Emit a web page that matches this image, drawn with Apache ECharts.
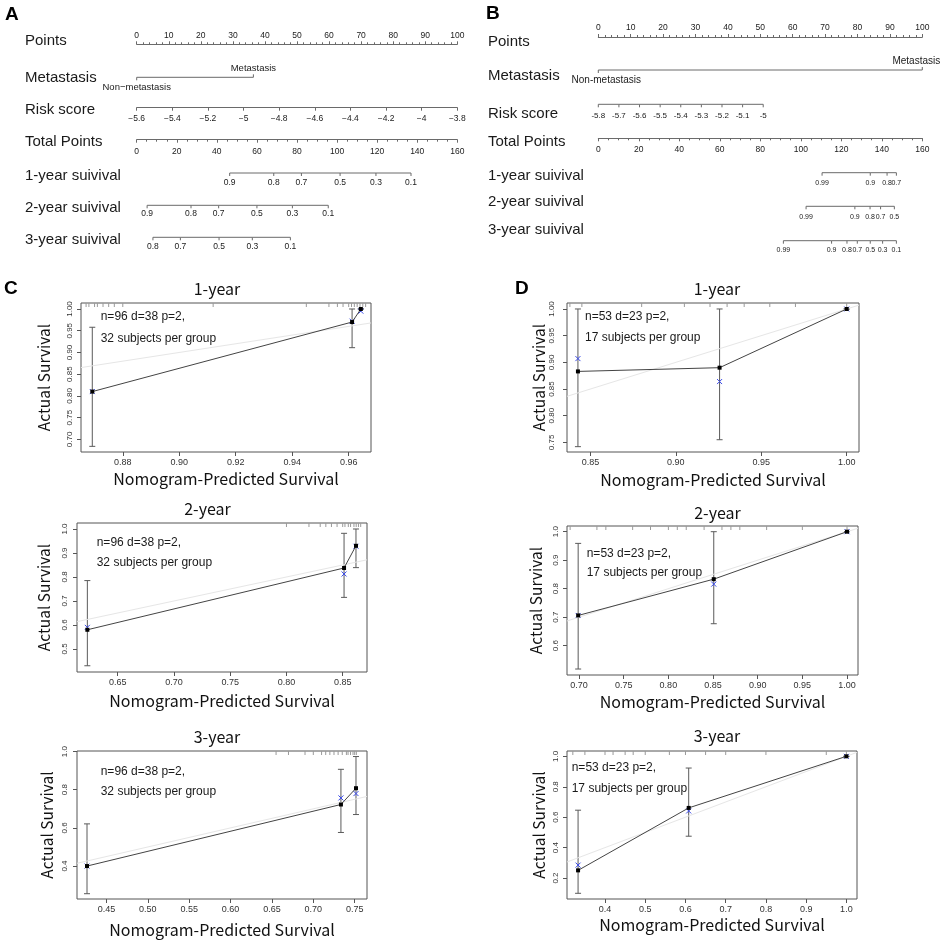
<!DOCTYPE html>
<html>
<head>
<meta charset="utf-8">
<script src="https://cdn.jsdelivr.net/npm/echarts@6/dist/echarts.min.js"></script>
<style>
  html, body { margin: 0; background: #fff; }
  #main { width: 941px; height: 941px; }
</style>
</head>
<body>
<div id="main"></div>
<script>
// ---------- nomogram A ----------
const metaPtsA = [0, 36.4];
const metaLabA = ['Non\u2212metastasis', 'Metastasis'];
const surv1LabA = ['0.9', '0.8', '0.7', '0.5', '0.3', '0.1'];
const surv1TotA = [46.4, 68.4, 82.2, 101.5, 119.4, 136.9];
const surv2LabA = ['0.9', '0.8', '0.7', '0.5', '0.3', '0.1'];
const surv2TotA = [5.2, 27.1, 40.9, 60.0, 77.7, 95.6];
const surv3LabA = ['0.8', '0.7', '0.5', '0.3', '0.1'];
const surv3TotA = [8.1, 21.8, 41.1, 57.7, 76.7];

// ---------- nomogram B ----------
const metaPtsB = [0, 100];
const metaLabB = ['Non-metastasis', 'Metastasis'];
const riskValsB = [-5.8, -5.7, -5.6, -5.5, -5.4, -5.3, -5.2, -5.1, -5];
const riskPtsAtMinus5B = 50.9; // points given to risk score -5
const surv1LabB = ['0.99', '0.9', '0.8', '0.7'];
const surv1TotB = [110.5, 134.3, 142.6, 147.2];
const surv2LabB = ['0.99', '0.9', '0.8', '0.7', '0.5'];
const surv2TotB = [102.6, 126.7, 134.2, 139.4, 146.2];
const surv3LabB = ['0.99', '0.9', '0.8', '0.7', '0.5', '0.3', '0.1'];
const surv3TotB = [91.4, 115.2, 122.8, 127.9, 134.3, 140.4, 147.2];

// ---------- calibration C (n=96) ----------
const c1Pred = [0.8692, 0.9612, 0.9643];
const c1Obs = [0.810, 0.970, 1.000];
const c1Lo = [0.684, 0.911, 1.000];
const c1Hi = [0.958, 1.000, 1.000];
const c1Corr = [0.810, 0.972, 0.995];
const c1Rug = [0.867, 0.868, 0.870, 0.871, 0.873, 0.875, 0.877, 0.880, 0.912, 0.945, 0.953, 0.956, 0.958, 0.960, 0.961, 0.962, 0.963, 0.964, 0.965, 0.966];
const c1XTicks = [0.88, 0.90, 0.92, 0.94, 0.96];
const c1YTicks = [0.70, 0.75, 0.80, 0.85, 0.90, 0.95, 1.00];

const c2Pred = [0.623, 0.8512, 0.8618];
const c2Obs = [0.580, 0.8375, 0.930];
const c2Lo = [0.430, 0.715, 0.839];
const c2Hi = [0.785, 0.982, 1.000];
const c2Corr = [0.590, 0.8125, 0.928];
const c2Rug = [0.80, 0.82, 0.83, 0.835, 0.84, 0.845, 0.85, 0.852, 0.855, 0.857, 0.86, 0.862, 0.864, 0.866];
const c2XTicks = [0.65, 0.70, 0.75, 0.80, 0.85];
const c2YTicks = [0.5, 0.6, 0.7, 0.8, 0.9, 1.0];

const c3Pred = [0.4265, 0.7334, 0.7516];
const c3Obs = [0.400, 0.7226, 0.808];
const c3Lo = [0.255, 0.576, 0.670];
const c3Hi = [0.621, 0.907, 0.974];
const c3Corr = [0.400, 0.757, 0.780];
const c3Rug = [0.655, 0.67, 0.69, 0.70, 0.71, 0.715, 0.72, 0.725, 0.73, 0.735, 0.74, 0.742, 0.745, 0.748, 0.75, 0.752];
const c3XTicks = [0.45, 0.50, 0.55, 0.60, 0.65, 0.70, 0.75];
const c3YTicks = [0.4, 0.6, 0.8, 1.0];

// ---------- calibration D (n=53) ----------
const d1Pred = [0.8427, 0.9256, 1.000];
const d1Obs = [0.883, 0.890, 1.000];
const d1Lo = [0.742, 0.755, 1.000];
const d1Hi = [1.000, 1.000, 1.000];
const d1Corr = [0.907, 0.864, 1.000];
const d1Rug = [0.838, 0.845, 0.88, 0.905, 0.92, 0.93, 0.94, 0.955, 0.97, 1.0];
const d1XTicks = [0.85, 0.90, 0.95, 1.00];
const d1YTicks = [0.75, 0.80, 0.85, 0.90, 0.95, 1.00];

const d2Pred = [0.699, 0.8508, 1.000];
const d2Obs = [0.706, 0.8334, 1.000];
const d2Lo = [0.518, 0.677, 1.000];
const d2Hi = [0.959, 1.000, 1.000];
const d2Corr = [0.706, 0.816, 1.000];
const d2Rug = [0.69, 0.72, 0.73, 0.76, 0.78, 0.80, 0.81, 0.82, 0.84, 0.86, 0.87, 0.88, 0.91, 0.95, 1.0];
const d2XTicks = [0.70, 0.75, 0.80, 0.85, 0.90, 0.95, 1.00];
const d2YTicks = [0.6, 0.7, 0.8, 0.9, 1.0];

const d3Pred = [0.333, 0.608, 1.000];
const d3Obs = [0.2505, 0.661, 1.000];
const d3Lo = [0.0997, 0.475, 1.000];
const d3Hi = [0.646, 0.923, 1.000];
const d3Corr = [0.285, 0.641, 1.000];
const d3Rug = [0.32, 0.35, 0.40, 0.42, 0.45, 0.47, 0.50, 0.56, 0.60, 0.65, 0.70, 0.80, 0.95, 1.0];
const d3XTicks = [0.4, 0.5, 0.6, 0.7, 0.8, 0.9, 1.0];
const d3YTicks = [0.2, 0.4, 0.6, 0.8, 1.0];

const ARIAL = '"Liberation Sans", Arial, sans-serif';
const CJK = '"Noto Sans CJK SC", "Noto Sans", sans-serif';
const LINE = '#6a6a6a';
const TXT = '#1a1a1a';

const grids = [], xAxes = [], yAxes = [], series = [], graphics = [];

function addGrid(g, x, y) {
  const gi = grids.length;
  grids.push(Object.assign({ show: false, containLabel: false }, g));
  xAxes.push(Object.assign({ gridIndex: gi, splitLine: { show: false } }, x));
  yAxes.push(Object.assign({ gridIndex: gi, splitLine: { show: false } }, y));
  return gi;
}

function txt(text, x, y, size, extra) {
  graphics.push({
    type: 'text', x: x, y: y, silent: true,
    style: Object.assign({ text: text, fontSize: size, fontFamily: ARIAL, fill: TXT, align: 'left', verticalAlign: 'middle' }, extra || {})
  });
}

const rowY = { type: 'value', min: -1, max: 1, show: false };

// axis row drawn by a real axis (Points, Total Points, linear risk score)
function axisRow(left, width, y, pos, axis) {
  addGrid({ left: left, width: width, top: pos === 'top' ? y : y - 2, height: 2 },
    Object.assign({
      type: 'value', position: pos,
      axisLine: { lineStyle: { color: LINE, width: 1 } },
      axisTick: { length: 3, lineStyle: { color: LINE } }
    }, axis), rowY);
}

// scale row with arbitrary tick positions (custom drawn on the library's scale)
function scaleRow(left, width, y, min, max, vals, labels, o) {
  const gi = addGrid({ left: left, width: width, top: y - 1, height: 2 },
    { type: 'value', min: min, max: max, show: false }, rowY);
  series.push({
    type: 'line', xAxisIndex: gi, yAxisIndex: gi, silent: true,
    data: vals.map(v => [v, 0]), symbol: 'none',
    lineStyle: { color: LINE, width: 1 }
  });
  series.push({
    type: 'custom', xAxisIndex: gi, yAxisIndex: gi, silent: true,
    data: vals.map(v => [v, 0]),
    renderItem: function (params, api) {
      const p = api.coord([api.value(0), 0]);
      const i = params.dataIndex;
      const up = o.up ? o.up[i] : false;
      const d = up ? -1 : 1;
      return {
        type: 'group', children: [
          { type: 'line', shape: { x1: p[0], y1: p[1], x2: p[0], y2: p[1] + d * o.tick }, style: { stroke: LINE, lineWidth: 1 } },
          { type: 'text', style: {
            text: labels[i], x: p[0] + (o.dx ? o.dx[i] : 0), y: p[1] + (up ? -o.gapUp : o.gap),
            fontSize: o.fs, fontFamily: ARIAL, fill: TXT, align: 'center', verticalAlign: up ? 'bottom' : 'top'
          } }
        ]
      };
    }
  });
}

// ---------------- nomogram A ----------------
(function () {
  const L = 136.7, W = 320.6;
  axisRow(L, W, 43.3, 'top', {
    min: 0, max: 100, interval: 10,
    minorTick: { show: true, splitNumber: 5, length: 2, lineStyle: { color: LINE } },
    axisLabel: { fontSize: 8.5, color: TXT, margin: 3, fontFamily: ARIAL }
  });
  scaleRow(L, W, 77.3, 0, 100, metaPtsA, metaLabA, { tick: 3, gap: 5, gapUp: 3.5, fs: 9.5, up: [false, true] });
  axisRow(L, W, 108.7, 'bottom', {
    min: -5.6, max: -3.8, interval: 0.2,
    axisLabel: { fontSize: 8.5, color: TXT, margin: 5, fontFamily: ARIAL,
      formatter: v => (v < 0 ? '\u2212' : '') + String(+Math.abs(v).toFixed(1)) }
  });
  axisRow(L, W, 140.7, 'bottom', {
    min: 0, max: 160, interval: 20,
    minorTick: { show: true, splitNumber: 4, length: 2, lineStyle: { color: LINE } },
    axisLabel: { fontSize: 8.5, color: TXT, margin: 6, fontFamily: ARIAL }
  });
  scaleRow(L, W, 173, 0, 160, surv1TotA, surv1LabA, { tick: 3, gap: 5, fs: 8.5 });
  scaleRow(L, W, 205.3, 0, 160, surv2TotA, surv2LabA, { tick: 3, gap: 4, fs: 8.5 });
  scaleRow(L, W, 237.3, 0, 160, surv3TotA, surv3LabA, { tick: 3, gap: 5, fs: 8.5 });

  txt('A', 5, 15, 19, { fontWeight: 'bold', fill: '#000' });
  const rows = [['Points', 41], ['Metastasis', 77.5], ['Risk score', 109.5], ['Total Points', 142],
    ['1-year suivival', 176], ['2-year suivival', 208], ['3-year suivival', 240]];
  rows.forEach(r => txt(r[0], 25, r[1], 15));
})();

// ---------------- nomogram B ----------------
(function () {
  const L = 598.3, W = 324;
  axisRow(L, W, 36, 'top', {
    min: 0, max: 100, interval: 10,
    minorTick: { show: true, splitNumber: 5, length: 2, lineStyle: { color: LINE } },
    axisLabel: { fontSize: 8.5, color: TXT, margin: 4, fontFamily: ARIAL }
  });
  scaleRow(L, W, 70, 0, 100, metaPtsB, metaLabB, { tick: 3, gap: 5.5, gapUp: 4, fs: 10, up: [false, true], dx: [8, -6] });
  const riskMaxB = riskValsB[0] + (riskValsB[riskValsB.length - 1] - riskValsB[0]) * 100 / riskPtsAtMinus5B;
  scaleRow(L, W, 104.3, riskValsB[0], riskMaxB, riskValsB, riskValsB.map(String), { tick: 3, gap: 7, fs: 8 });
  axisRow(L, W, 139.3, 'bottom', {
    min: 0, max: 160, interval: 20,
    minorTick: { show: true, splitNumber: 4, length: 2, lineStyle: { color: LINE } },
    axisLabel: { fontSize: 8.5, color: TXT, margin: 5.5, fontFamily: ARIAL }
  });
  scaleRow(L, W, 172.7, 0, 160, surv1TotB, surv1LabB, { tick: 3, gap: 6.5, fs: 7 });
  scaleRow(L, W, 206.3, 0, 160, surv2TotB, surv2LabB, { tick: 3, gap: 7, fs: 7 });
  scaleRow(L, W, 240.7, 0, 160, surv3TotB, surv3LabB, { tick: 3, gap: 6, fs: 7 });

  txt('B', 486, 14, 19, { fontWeight: 'bold', fill: '#000' });
  const rows = [['Points', 42], ['Metastasis', 76], ['Risk score', 114], ['Total Points', 142],
    ['1-year suivival', 176], ['2-year suivival', 202], ['3-year suivival', 230]];
  rows.forEach(r => txt(r[0], 488, r[1], 15));
})();

// ---------------- calibration plots ----------------
function calPlot(c) {
  const fx = v => v.toFixed(c.xd), fy = v => v.toFixed(c.yd);
  const gi = addGrid(
    { left: c.box[0], top: c.box[1], width: c.box[2], height: c.box[3], show: true, borderColor: '#555', borderWidth: 1 },
    {
      type: 'value', min: c.xr[0], max: c.xr[1],
      name: 'Nomogram-Predicted Survival', nameLocation: 'middle', nameGap: c.xGap,
      nameTextStyle: { fontSize: 16, color: '#111', fontFamily: CJK },
      axisLine: { show: false },
      axisTick: { show: true, length: 4, customValues: c.xt, lineStyle: { color: '#555' } },
      axisLabel: { customValues: c.xt, fontSize: 9, color: '#333', margin: 6, fontFamily: ARIAL, formatter: fx }
    },
    {
      type: 'value', min: c.yr[0], max: c.yr[1],
      name: 'Actual Survival', nameLocation: 'middle', nameGap: c.yGap, nameRotate: 90,
      nameTextStyle: { fontSize: 15.5, color: '#111', fontFamily: CJK },
      axisLine: { show: false },
      axisTick: { show: true, length: 4, customValues: c.yt, lineStyle: { color: '#555' } },
      axisLabel: { customValues: c.yt, rotate: 90, fontSize: 8, color: '#333', margin: c.yMargin, fontFamily: ARIAL, formatter: fy }
    });
  const ax = { xAxisIndex: gi, yAxisIndex: gi, silent: true };
  // ideal line
  series.push(Object.assign({
    type: 'line', data: [[c.xr[0], c.xr[0]], [c.xr[1], c.xr[1]]], symbol: 'none', clip: true,
    lineStyle: { color: '#e6e6e6', width: 1 }
  }, ax));
  // rug of predictions
  series.push(Object.assign({
    type: 'custom', data: c.rug.map(v => [v, c.yr[1]]),
    renderItem: (params, api) => {
      const p = api.coord([api.value(0), api.value(1)]);
      return { type: 'line', shape: { x1: p[0], y1: p[1], x2: p[0], y2: p[1] + 4 }, style: { stroke: '#9a9a9a', lineWidth: 1 } };
    }
  }, ax));
  // error bars
  series.push(Object.assign({
    type: 'custom', data: c.pred.map((x, i) => [x, c.lo[i], c.hi[i]]),
    renderItem: (params, api) => {
      const x = api.value(0);
      const a = api.coord([x, api.value(1)]), b = api.coord([x, api.value(2)]);
      const st = { stroke: '#5a5a5a', lineWidth: 1 };
      return {
        type: 'group', children: [
          { type: 'line', shape: { x1: a[0], y1: a[1], x2: b[0], y2: b[1] }, style: st },
          { type: 'line', shape: { x1: a[0] - 3, y1: a[1], x2: a[0] + 3, y2: a[1] }, style: st },
          { type: 'line', shape: { x1: b[0] - 3, y1: b[1], x2: b[0] + 3, y2: b[1] }, style: st }
        ]
      };
    }
  }, ax));
  // observed
  series.push(Object.assign({
    type: 'line', data: c.pred.map((x, i) => [x, c.obs[i]]),
    symbol: 'rect', symbolSize: 4, showAllSymbol: true,
    itemStyle: { color: '#000' }, lineStyle: { color: '#444', width: 1 }
  }, ax));
  // bias corrected (blue x)
  series.push(Object.assign({
    type: 'custom', data: c.pred.map((x, i) => [x, c.corr[i]]),
    renderItem: (params, api) => {
      const p = api.coord([api.value(0), api.value(1)]);
      const s = 2.5, st = { stroke: '#3a4ae8', lineWidth: 1 };
      return {
        type: 'group', children: [
          { type: 'line', shape: { x1: p[0] - s, y1: p[1] - s, x2: p[0] + s, y2: p[1] + s }, style: st },
          { type: 'line', shape: { x1: p[0] - s, y1: p[1] + s, x2: p[0] + s, y2: p[1] - s }, style: st }
        ]
      };
    }
  }, ax));
  txt(c.title, c.titlePos[0], c.titlePos[1], 16, { fontFamily: CJK, fill: '#111', align: 'center' });
  txt(c.note[0], c.notePos[0], c.notePos[1], 12);
  txt(c.note[1], c.notePos[0], c.notePos[2], 12);
}

const noteC = ['n=96 d=38 p=2,', '32 subjects per group'];
const noteD = ['n=53 d=23 p=2,', '17 subjects per group'];

calPlot({ box: [81, 303, 290, 149], xr: [0.8652, 0.9679], yr: [0.671, 1.0138], xt: c1XTicks, yt: c1YTicks, xd: 2, yd: 2,
  xGap: 19, yGap: 29.5, yMargin: 7, pred: c1Pred, obs: c1Obs, lo: c1Lo, hi: c1Hi, corr: c1Corr, rug: c1Rug,
  title: '1-year', titlePos: [217, 289], note: noteC, notePos: [100.7, 316.7, 338.3] });
calPlot({ box: [567, 303, 292, 149], xr: [0.8363, 1.0072], yr: [0.732, 1.0112], xt: d1XTicks, yt: d1YTicks, xd: 2, yd: 2,
  xGap: 20, yGap: 20.5, yMargin: 11.5, pred: d1Pred, obs: d1Obs, lo: d1Lo, hi: d1Hi, corr: d1Corr, rug: d1Rug,
  title: '1-year', titlePos: [717, 289], note: noteD, notePos: [585, 316.7, 337.7] });
calPlot({ box: [77, 523, 290, 149], xr: [0.6138, 0.8716], yr: [0.404, 1.025], xt: c2XTicks, yt: c2YTicks, xd: 2, yd: 1,
  xGap: 21, yGap: 25.5, yMargin: 8, pred: c2Pred, obs: c2Obs, lo: c2Lo, hi: c2Hi, corr: c2Corr, rug: c2Rug,
  title: '2-year', titlePos: [207.5, 509], note: noteC, notePos: [96.7, 542.7, 562.7] });
calPlot({ box: [567, 526, 291, 149], xr: [0.6865, 1.0123], yr: [0.497, 1.02], xt: d2XTicks, yt: d2YTicks, xd: 2, yd: 1,
  xGap: 18.5, yGap: 23.5, yMargin: 7.3, pred: d2Pred, obs: d2Obs, lo: d2Lo, hi: d2Hi, corr: d2Corr, rug: d2Rug,
  title: '2-year', titlePos: [717.5, 512.7], note: noteD, notePos: [586.7, 553.3, 572.7] });
calPlot({ box: [77, 751, 290, 148], xr: [0.4144, 0.7649], yr: [0.2273, 1.003], xt: c3XTicks, yt: c3YTicks, xd: 2, yd: 1,
  xGap: 22.5, yGap: 22, yMargin: 8, pred: c3Pred, obs: c3Obs, lo: c3Lo, hi: c3Hi, corr: c3Corr, rug: c3Rug,
  title: '3-year', titlePos: [217, 736.7], note: noteC, notePos: [100.7, 771.7, 791.7] });
calPlot({ box: [567, 751, 290, 148], xr: [0.3055, 1.0264], yr: [0.0623, 1.035], xt: d3XTicks, yt: d3YTicks, xd: 1, yd: 1,
  xGap: 17.5, yGap: 20.5, yMargin: 7.3, pred: d3Pred, obs: d3Obs, lo: d3Lo, hi: d3Hi, corr: d3Corr, rug: d3Rug,
  title: '3-year', titlePos: [717, 736], note: noteD, notePos: [571.7, 767.3, 788.3] });

txt('C', 4, 289, 19, { fontWeight: 'bold', fill: '#000' });
txt('D', 515, 289, 19, { fontWeight: 'bold', fill: '#000' });

const chart = echarts.init(document.getElementById('main'), null, { renderer: 'canvas' });
chart.setOption({
  backgroundColor: '#fff',
  animation: false,
  grid: grids,
  xAxis: xAxes,
  yAxis: yAxes,
  series: series,
  graphic: { elements: graphics }
});
</script>
</body>
</html>
